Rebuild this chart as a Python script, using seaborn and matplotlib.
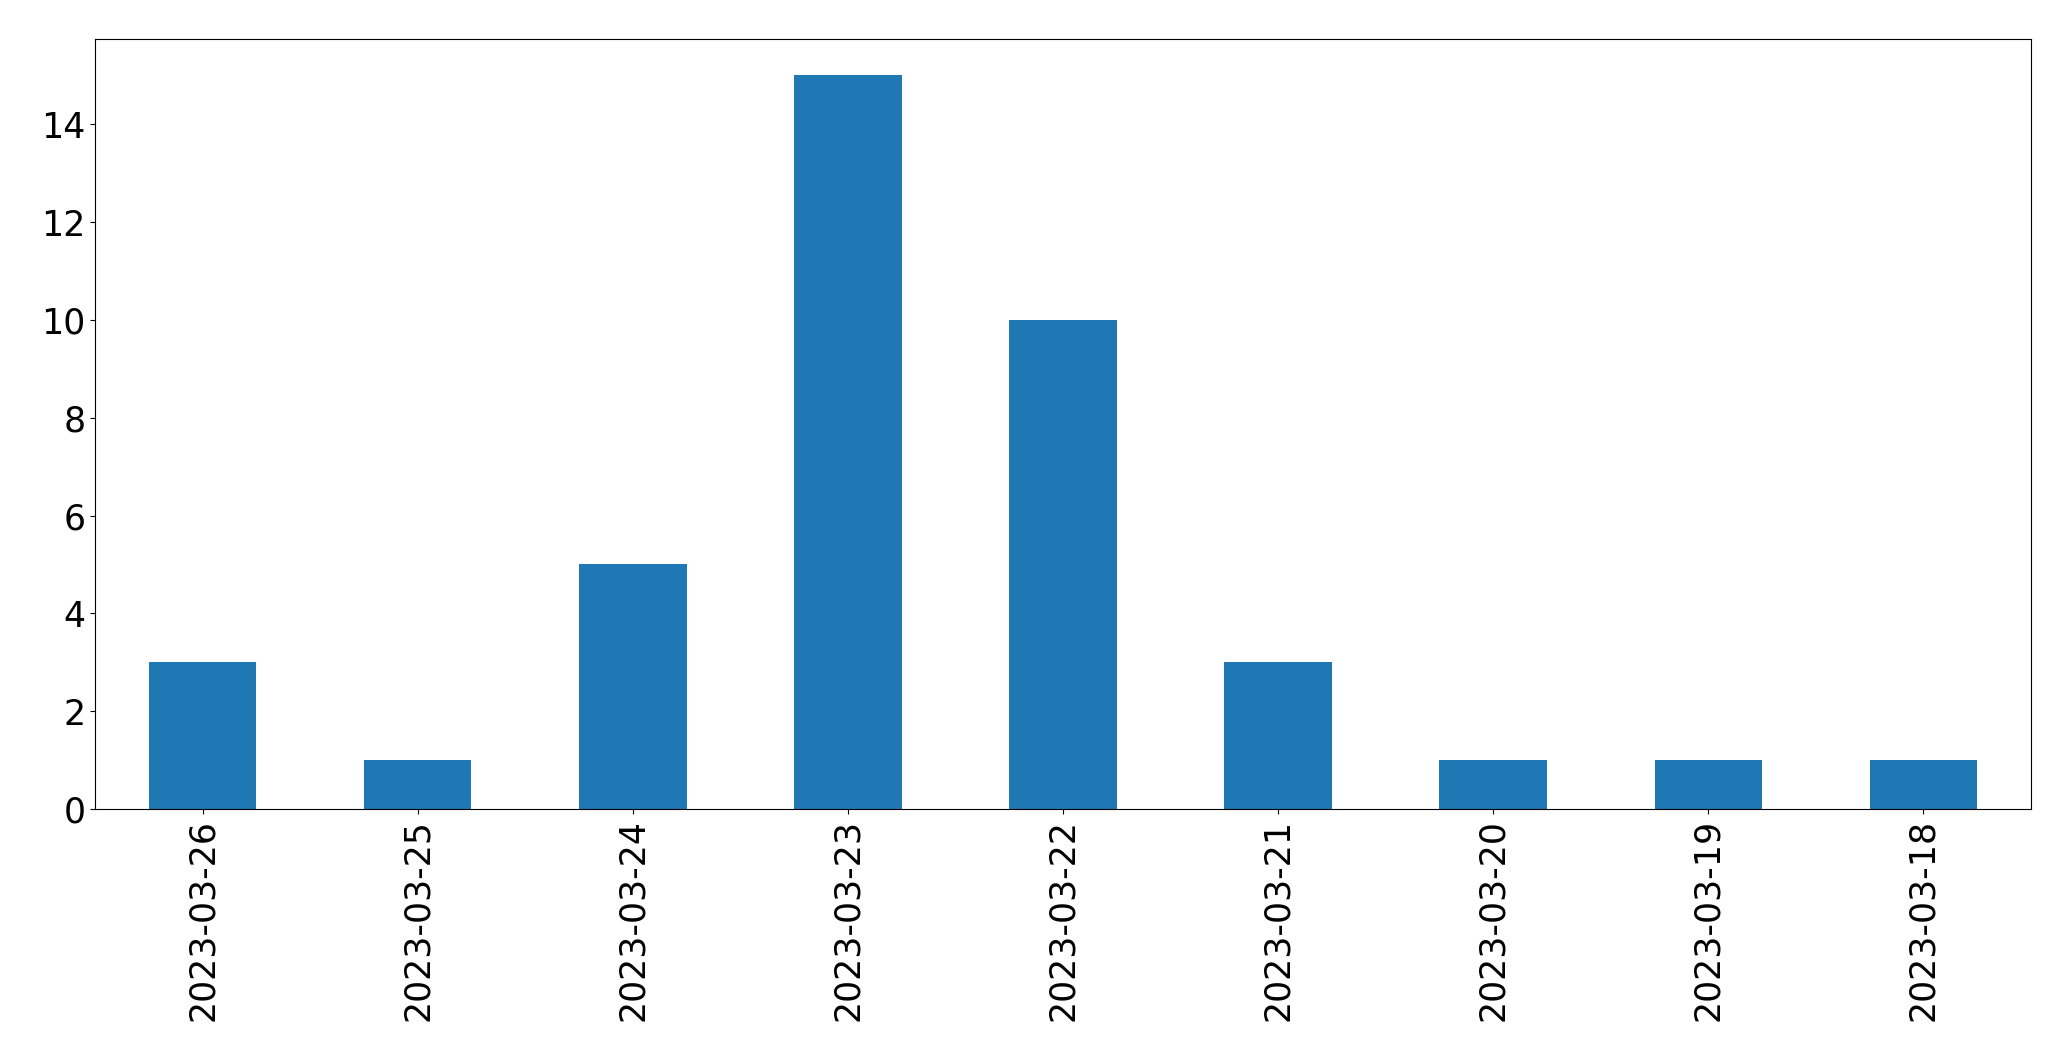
import matplotlib
matplotlib.use("Agg")
import matplotlib.pyplot as plt
import seaborn as sns
import pandas as pd

# Daily counts (order as shown, newest first)
dates = ["2023-03-26", "2023-03-25", "2023-03-24", "2023-03-23", "2023-03-22",
         "2023-03-21", "2023-03-20", "2023-03-19", "2023-03-18"]
counts = [3, 1, 5, 15, 10, 3, 1, 1, 1]

df = pd.DataFrame({"date": dates, "count": counts})

fig, ax = plt.subplots(figsize=(20.71, 10.61), dpi=100)
sns.barplot(x="date", y="count", data=df, order=dates, color="#1f77b4",
            saturation=1, width=0.5, edgecolor="none", ax=ax)

ax.set_xlim(-0.5, len(dates) - 0.5)
ax.set_ylim(0, 15.75)
ax.set_xlabel("")
ax.set_ylabel("")
ax.tick_params(axis="x", labelsize=25, rotation=90)
ax.tick_params(axis="y", labelsize=25)

fig.subplots_adjust(left=0.0459, right=0.9807, top=0.9635, bottom=0.2375)
fig.savefig("out.png", dpi=100)
